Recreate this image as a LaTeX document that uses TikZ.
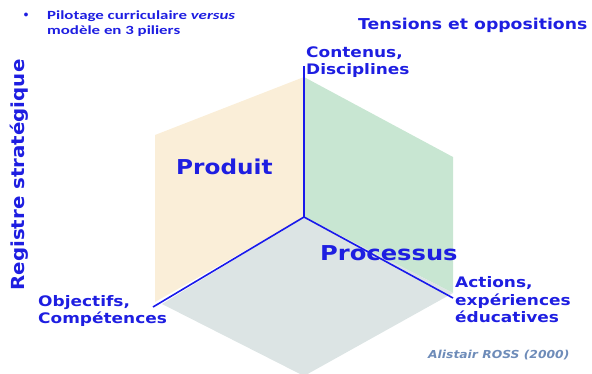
\documentclass[tikz,border=0pt]{standalone}
\usepackage{fontspec}
\setmainfont{DejaVu Sans}
\newfontfamily\carl{Carlito}
\newcommand\sx[2][1.17]{\scalebox{#1}[1]{#2}}
\definecolor{tblue}{RGB}{30,30,225}
\definecolor{lblue}{RGB}{25,25,235}
\definecolor{ftan}{RGB}{250,238,216}
\definecolor{fgreen}{RGB}{200,230,210}
\definecolor{fgray}{RGB}{220,228,228}
\definecolor{cgray}{RGB}{110,140,185}
\begin{document}
\begin{tikzpicture}[x=1pt,y=-1pt,
  lbl/.style={text=tblue,font=\bfseries\fontsize{14.5}{17.5}\selectfont,align=left,inner sep=0pt,anchor=west},
  big/.style={text=tblue,font=\bfseries\fontsize{20.5}{22}\selectfont,inner sep=0pt,anchor=west},
  axis/.style={draw=lblue,line width=1.6pt}]
\useasboundingbox (0,0) rectangle (592,373);
\coordinate (O) at (304,217);
\coordinate (T) at (304,66);
\coordinate (L) at (153,307);
\coordinate (R) at (453,298);
% faces
\fill[ftan] (O) -- (304,77) -- (155,135) -- (155,302) -- cycle;
\fill[fgreen] (O) -- (304,77) -- (453,157) -- (453,293) -- cycle;
\fill[fgray] (O) -- (162,304) -- (304,376) -- (453,293) -- cycle;
% axes
\draw[axis] (T) -- (O);
\draw[axis] (O) -- (L);
\draw[axis] (O) -- (R);
% texts
\node[text=tblue,font=\carl\bfseries\fontsize{9}{9}\selectfont,inner sep=0pt] (bul) at (26,15) {•};
\node[text=tblue,font=\carl\bfseries\fontsize{12.5}{15}\selectfont,align=left,anchor=west,inner sep=0pt] (pil) at (47,24) {\sx[1.35]{Pilotage curriculaire \textit{versus}}\\\sx[1.35]{modèle en 3 piliers}};
\node[lbl,font=\bfseries\fontsize{15}{17}\selectfont] (ten) at (358,25) {\sx[1.15]{Tensions et oppositions}};
\node[lbl] (cont) at (306,62) {\sx{Contenus,}\\\sx{Disciplines}};
\node[text=tblue,font=\bfseries\fontsize{18}{20}\selectfont,rotate=90,inner sep=0pt] (reg) at (19,175) {\sx[1.1]{Registre stratégique}};
\node[big] (prod) at (176,167) {\sx[1.13]{Produit}};
\node[big] (proc) at (320,253) {\sx[1.18]{Processus}};
\node[lbl] (obj) at (38,311) {\sx{Objectifs,}\\\sx{Compétences}};
\node[lbl] (act) at (455,300) {\sx{Actions,}\\\sx{expériences}\\\sx{éducatives}};
\node[text=cgray,font=\bfseries\itshape\fontsize{11}{12}\selectfont,anchor=west,inner sep=0pt] (ross) at (428,355) {\sx[1.12]{Alistair ROSS (2000)}};
\end{tikzpicture}
\end{document}
